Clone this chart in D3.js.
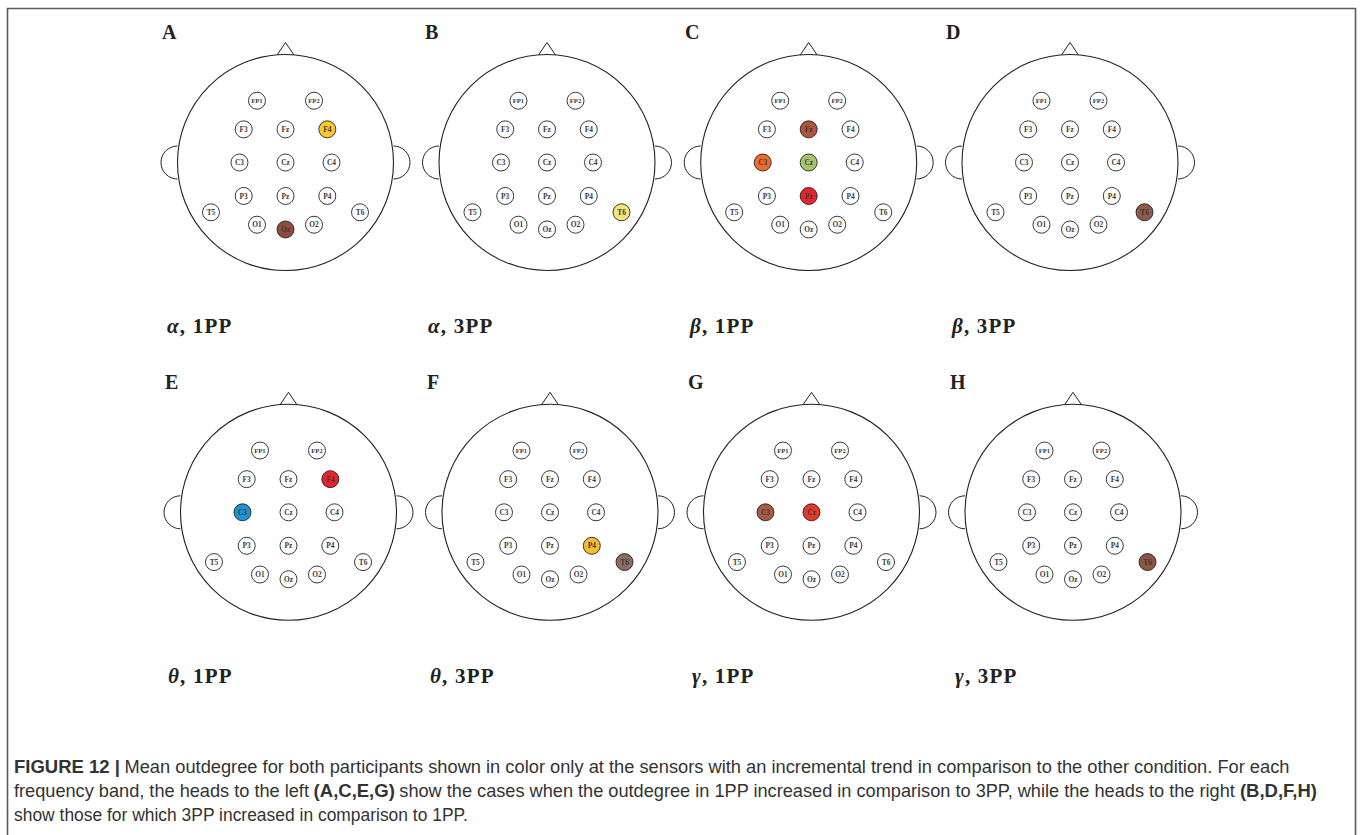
<!DOCTYPE html>
<html>
<head>
<meta charset="utf-8">
<script src="https://cdn.jsdelivr.net/npm/d3@7"></script>
<style>
  html, body { margin: 0; padding: 0; background: #fff; }
  svg { display: block; }
</style>
</head>
<body>
<svg id="fig" width="1360" height="835"></svg>
<script>
// 10-20 sensor layout, in units of head radius (x right, y down)
const sensorNames = ["FP1","FP2","F3","Fz","F4","C3","Cz","C4","P3","Pz","P4","T5","T6","O1","Oz","O2"];
const sensorX = [-0.264, 0.264, -0.387, 0, 0.387, -0.426, 0, 0.426, -0.387, 0, 0.387, -0.69, 0.69, -0.264, 0, 0.264];
const sensorY = [-0.572, -0.572, -0.307, -0.307, -0.307, 0, 0, 0, 0.31, 0.31, 0.31, 0.461, 0.461, 0.576, 0.62, 0.576];

// panel letters, band symbol and condition
const panelLetters = ["A","B","C","D","E","F","G","H"];
const panelBands = ["α","α","β","β","θ","θ","γ","γ"];
const panelConditions = ["1PP","3PP","1PP","3PP","1PP","3PP","1PP","3PP"];

// sensors showing an incremental outdegree trend, with their colour
const highlights = [
  [{s:"F4", c:"#f8c92c"}, {s:"Oz", c:"#8f4d3d"}],
  [{s:"T6", c:"#f2e57c"}],
  [{s:"Fz", c:"#b4523d"}, {s:"C3", c:"#ef6a2c"}, {s:"Cz", c:"#a9c56c"}, {s:"Pz", c:"#e6222b"}],
  [{s:"T6", c:"#8d5a4b"}],
  [{s:"F4", c:"#e6222b"}, {s:"C3", c:"#1b94d2"}],
  [{s:"P4", c:"#f3bf2f"}, {s:"T6", c:"#8e6b5e"}],
  [{s:"C3", c:"#a65b47"}, {s:"Cz", c:"#e0392b"}],
  [{s:"T6", c:"#8d5343"}]
];

// caption lines as [text, bold] runs (runs are separated by one space)
const captionRuns = [
  [["FIGURE 12 |", true], ["Mean outdegree for both participants shown in color only at the sensors with an incremental trend in comparison to the other condition. For each", false]],
  [["frequency band, the heads to the left", false], ["(A,C,E,G)", true], ["show the cases when the outdegree in 1PP increased in comparison to 3PP, while the heads to the right", false], ["(B,D,F,H)", true]],
  [["show those for which 3PP increased in comparison to 1PP.", false]]
];
const captionLineEnds = [1291, 1317, 468];

const svg = d3.select("#fig");
svg.append("rect").attr("width", 1360).attr("height", 835).attr("fill", "#fff");

// outer frame
svg.append("path")
  .attr("d", "M7.5,845 L7.5,8.5 L1355.5,8.5 L1355.5,845")
  .attr("fill", "none").attr("stroke", "#5a5a5a").attr("stroke-width", 1.6);

// grid of heads
const colCenters = [[285.5, 547, 808.7, 1070], [288.5, 550, 811.5, 1073]];
const rowCenters = [162.5, 512.3];
const R = 108;
const eR = 8.5;

panelLetters.forEach((letter, i) => {
  const row = Math.floor(i / 4), col = i % 4;
  const cx = colCenters[row][col], cy = rowCenters[row];
  const x = d3.scaleLinear().domain([-1, 1]).range([cx - R, cx + R]);
  const y = d3.scaleLinear().domain([-1, 1]).range([cy - R, cy + R]);
  const g = svg.append("g");

  // ears
  const earR = 16.5;
  g.append("path")
    .attr("d", `M${x(-1)},${cy - earR} A${earR},${earR} 0 0 0 ${x(-1)},${cy + earR}`)
    .attr("fill", "none").attr("stroke", "#222").attr("stroke-width", 1);
  g.append("path")
    .attr("d", `M${x(1)},${cy - earR} A${earR},${earR} 0 0 1 ${x(1)},${cy + earR}`)
    .attr("fill", "none").attr("stroke", "#222").attr("stroke-width", 1);
  // nose
  g.append("path")
    .attr("d", `M${cx - 8.5},${y(-1) + 0.5} L${cx},${y(-1) - 12} L${cx + 8.5},${y(-1) + 0.5}`)
    .attr("fill", "#fff").attr("stroke", "#222").attr("stroke-width", 1);
  // head
  g.append("circle").attr("cx", cx).attr("cy", cy).attr("r", R)
    .attr("fill", "#fff").attr("stroke", "#222").attr("stroke-width", 1.1);

  const hl = new Map(highlights[i].map(d => [d.s, d.c]));
  const sensors = sensorNames.map((n, k) => ({name: n, x: sensorX[k], y: sensorY[k]}));
  const sg = g.selectAll("g.sensor").data(sensors).join("g").attr("class", "sensor")
    .attr("transform", d => `translate(${x(d.x)},${y(d.y)})`);
  sg.append("circle").attr("r", eR)
    .attr("fill", d => hl.get(d.name) || "#fff")
    .attr("stroke", "#222").attr("stroke-width", 0.9);
  sg.append("text").text(d => d.name)
    .attr("text-anchor", "middle").attr("dy", "0.35em")
    .attr("font-family", "Liberation Serif, serif").attr("font-weight", "bold")
    .attr("font-size", d => d.name.length > 2 ? 6.6 : 7.4)
    .attr("fill", "#3a3a3a");

  // panel letter
  const letterPos = [[162, 425, 685, 946], [165, 427, 688, 950]];
  svg.append("text").text(letter)
    .attr("x", letterPos[row][col]).attr("y", row === 0 ? 39 : 389)
    .attr("font-family", "Liberation Serif, serif").attr("font-weight", "bold")
    .attr("font-size", 20).attr("fill", "#222");

  // band / condition label
  const labelPos = [[167, 428, 690, 952], [168, 430, 692, 955]];
  const t = svg.append("text")
    .attr("x", labelPos[row][col]).attr("y", row === 0 ? 333 : 683)
    .attr("font-family", "Liberation Serif, serif").attr("font-weight", "bold")
    .attr("font-size", 21).attr("letter-spacing", 1.2).attr("fill", "#222");
  t.append("tspan").attr("font-style", "italic").text(panelBands[i]);
  t.append("tspan").text(", " + panelConditions[i]);
});

// caption: bold runs at natural width, regular runs condensed to fit each line
const capFont = "Liberation Sans, Arial, sans-serif";
const capSize = 18.5;
const capX = 14, capY0 = 773, capDy = 24;
const gap = 4.5;

function runText(parent, str, bold) {
  return parent.append("text")
    .attr("font-family", capFont).attr("font-size", capSize)
    .attr("font-weight", bold ? "bold" : "normal")
    .attr("fill", "#333").text(str);
}

const measure = svg.append("g").attr("opacity", 0);
const widths = captionRuns.map(line => line.map(([s, b]) => runText(measure, s, b).node().getComputedTextLength()));
measure.remove();

captionRuns.forEach((line, li) => {
  const boldW = d3.sum(line, (r, j) => r[1] ? widths[li][j] : 0);
  const regW = d3.sum(line, (r, j) => r[1] ? 0 : widths[li][j]);
  const k = (captionLineEnds[li] - capX - boldW - gap * (line.length - 1)) / regW;
  let cur = capX;
  line.forEach(([s, b], j) => {
    const sx = b ? 1 : k;
    runText(svg, s, b)
      .attr("transform", `translate(${cur},${capY0 + li * capDy}) scale(${sx},1)`);
    cur += widths[li][j] * sx + gap;
  });
});
</script>
</body>
</html>
